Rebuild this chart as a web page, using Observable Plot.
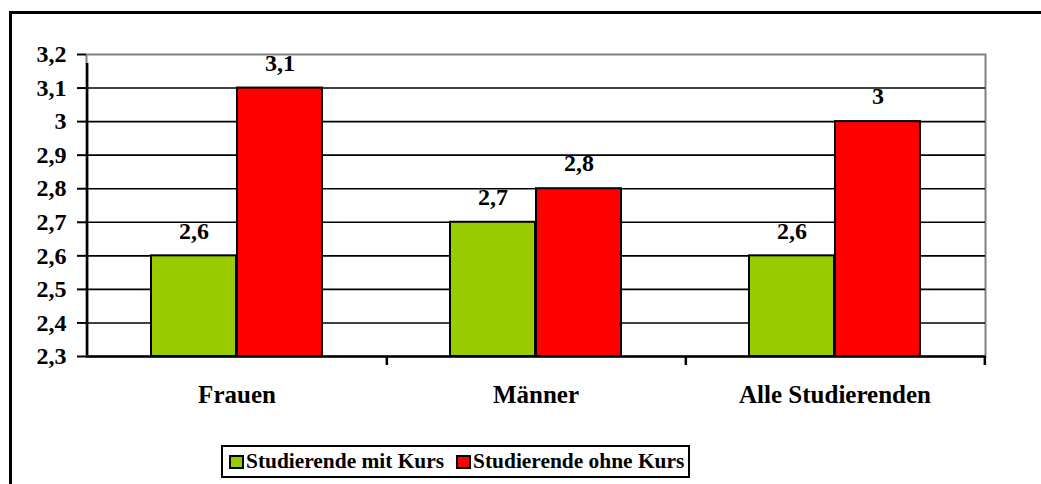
<!DOCTYPE html>
<html>
<head>
<meta charset="utf-8">
<script src="https://cdn.jsdelivr.net/npm/d3@7"></script>
<script src="https://cdn.jsdelivr.net/npm/@observablehq/plot@0.6"></script>
<style>
  html, body { margin: 0; padding: 0; background: #fff; width: 1041px; height: 484px; overflow: hidden; }
  #wrap { position: relative; width: 1041px; height: 484px; font-family: "Liberation Serif", serif; }
  #outer { position: absolute; left: 9px; top: 11px; width: 1100px; height: 600px; border-left: 3px solid #000; border-top: 3px solid #000; box-sizing: border-box; }
  #chart { position: absolute; left: 0; top: 0; }
  #chart svg, #chart svg text { font-family: "Liberation Serif", serif; font-weight: bold; }
  #legend { position: absolute; left: 221px; top: 445px; width: 469px; height: 33px; border: 2px solid #000; box-sizing: border-box;
            display: flex; align-items: center; justify-content: flex-start; padding-left: 6px; gap: 12px; white-space: nowrap;
            font-family: "Liberation Serif", serif; font-weight: bold; font-size: 21.4px; color: #000; background: #fff; }
  .item { display: flex; align-items: center; gap: 2px; }
  .sw { width: 15px; height: 14px; border: 2px solid #000; box-sizing: border-box; }
</style>
</head>
<body>
<div id="wrap">
  <div id="outer"></div>
  <div id="chart"></div>
  <div id="legend"></div>
</div>
<script>
const categories = ["Frauen", "Männer", "Alle Studierenden"];
const mitKurs = [2.6, 2.7, 2.6];
const ohneKurs = [3.1, 2.8, 3.0];
const seriesNames = ["Studierende mit Kurs", "Studierende ohne Kurs"];
const seriesColors = ["#99CC00", "#FF0000"];
const yTicks = [2.3, 2.4, 2.5, 2.6, 2.7, 2.8, 2.9, 3.0, 3.1, 3.2];

const fmt = d => String(Math.round(d * 10) / 10).replace(".", ",");
const data = categories.map((c, i) => ({cat: c, mit: mitKurs[i], ohne: ohneKurs[i]}));

const W = 1041, H = 484, ML = 86, MR = 56, MT = 54, MB = 128;
const bw = (W - ML - MR) / categories.length;
const font = "Liberation Serif, serif";

const chart = Plot.plot({
  width: W, height: H,
  marginLeft: ML, marginRight: MR, marginTop: MT, marginBottom: MB,
  style: {fontFamily: font, fontSize: "24px", fontWeight: "bold", color: "#000", background: "transparent", overflow: "visible"},
  x: {domain: categories, padding: 0, label: null, axis: null},
  y: {domain: [2.3, 3.2], label: null, axis: null},
  marks: [
    Plot.frame({stroke: "#808080", strokeWidth: 2}),
    Plot.ruleY(yTicks.slice(1, -1), {stroke: "#000", strokeWidth: 1.6}),
    Plot.barY(data, {x: "cat", y1: 2.3, y2: "mit", fill: seriesColors[0], stroke: "#000", strokeWidth: 2, insetLeft: 64, insetRight: 150}),
    Plot.barY(data, {x: "cat", y1: 2.3, y2: "ohne", fill: seriesColors[1], stroke: "#000", strokeWidth: 2, insetLeft: 150, insetRight: 64}),
    Plot.text(data, {x: "cat", y: "mit", text: d => fmt(d.mit), dx: -43, dy: -25, fontSize: 24, fontWeight: "bold", fontFamily: font, fill: "#000"}),
    Plot.text(data, {x: "cat", y: "ohne", text: d => fmt(d.ohne), dx: 43, dy: -25, fontSize: 24, fontWeight: "bold", fontFamily: font, fill: "#000"}),
    Plot.ruleY([2.3], {stroke: "#000", strokeWidth: 2.5}),
    Plot.ruleX([categories[0]], {y1: 2.3, y2: 3.2, dx: -bw / 2, insetBottom: -9, insetTop: -1, stroke: "#000", strokeWidth: 2.5}),
    Plot.axisY({ticks: yTicks, tickFormat: fmt, tickSize: 9, tickPadding: 11, stroke: "#000", strokeWidth: 2, fontSize: 24, fontWeight: "bold", fontFamily: font, fill: "#000"}),
    Plot.axisX({tickSize: 0, tickPadding: 29, fontSize: 25, fontWeight: "bold", fontFamily: font, fill: "#000"}),
    Plot.axisX({tickSize: 9, tickFormat: () => "", dx: bw / 2, stroke: "#000", strokeWidth: 2.5})
  ]
});
document.getElementById("chart").appendChild(chart);

const legend = document.getElementById("legend");
seriesNames.forEach((name, i) => {
  const item = document.createElement("div");
  item.className = "item";
  const sw = document.createElement("div");
  sw.className = "sw";
  sw.style.background = seriesColors[i];
  const label = document.createElement("span");
  label.textContent = name;
  item.appendChild(sw);
  item.appendChild(label);
  legend.appendChild(item);
});
</script>
</body>
</html>
